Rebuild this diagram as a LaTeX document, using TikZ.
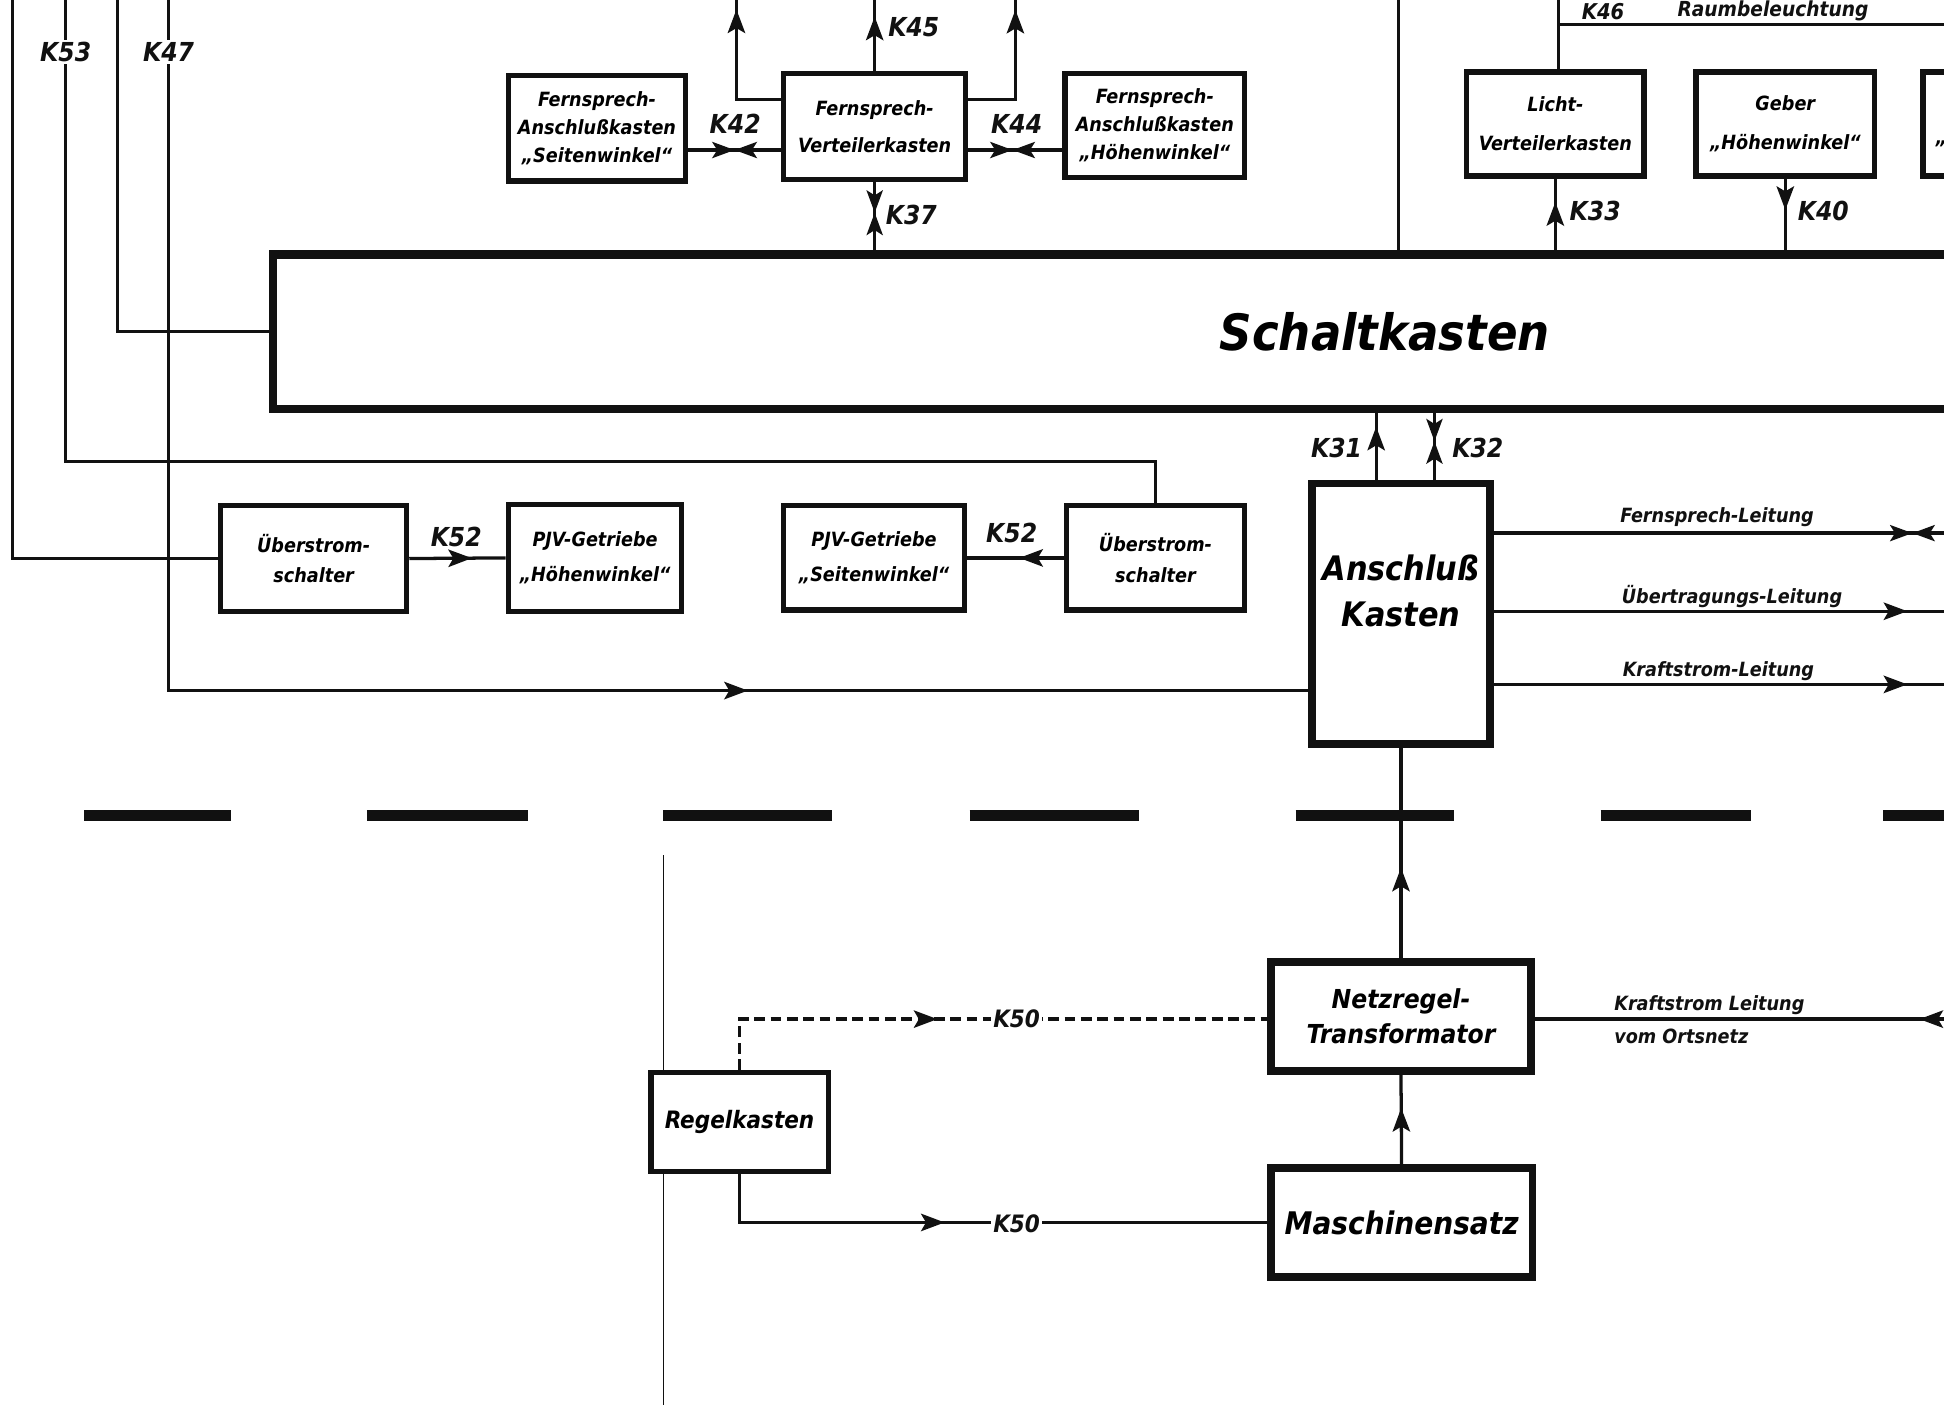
\documentclass[tikz,border=0pt]{standalone}
\usepackage{fontspec}
\setmainfont{DejaVu Sans Condensed}
\usepackage{tikz}
\usetikzlibrary{arrows.meta,decorations.markings}
\definecolor{ink}{HTML}{111111}
\tikzset{
  box/.style={draw=ink, line width=2.4pt, fill=white, align=center, inner sep=1pt,
    font=\fontsize{9}{13}\selectfont\bfseries\itshape},
  bigbox/.style={box, line width=3.5pt},
  wire/.style={draw=ink, line width=1.5pt},
  ctrl/.style={wire, dash pattern=on 5pt off 2.5pt},
  sep/.style={draw=ink, line width=5pt},
  lab/.style={text=ink, inner sep=1pt, font=\fontsize{12}{14}\selectfont\bfseries\itshape},
  note/.style={text=ink, inner sep=1pt, font=\fontsize{9}{11}\selectfont\bfseries\itshape},
  tip/.style={postaction={decorate}, decoration={markings,
    mark=at position #1 with {\arrow{Stealth[length=3.8mm,width=2.8mm,inset=0.8mm]}}}},
  meet/.style={postaction={decorate}, decoration={markings,
    mark=at position #1 with {\arrow{Stealth[length=3.6mm,width=2.6mm,inset=0.8mm]}%
      \pgftransformxshift{3.6mm}\arrow{Stealth[length=3.6mm,width=2.6mm,inset=0.8mm,reversed]}}}}
}

\begin{document}
\begin{tikzpicture}[x=0.02cm, y=-0.02cm]
  \useasboundingbox (0,0) rectangle (1568,1133);
  \fill[white] (0,0) rectangle (1568,1133);
  \clip (0,0) rectangle (1568,1133);

  % free ends at the sheet border
  \coordinate (t10) at (10,-10);
  \coordinate (tK53) at (53,-10);
  \coordinate (t95) at (95,-10);
  \coordinate (tK47) at (136,-10);
  \coordinate (tL) at (594,-10);
  \coordinate (tR) at (819,-10);
  \coordinate (t1128) at (1128,-10);
  \coordinate (t1257) at (1257,-10);
  \coordinate (eRaum) at (1580,20);
  \coordinate (eF) at (1580,430);
  \coordinate (eU) at (1580,493);
  \coordinate (eK) at (1580,552);
  \coordinate (eOrt) at (1580,822);

  % sheet edge and separation line
  \draw[ink, line width=0.5pt] (535,690) -- (535,1140);
  \foreach \a/\b in {68/186, 296/426, 535/671, 782/919, 1045/1173, 1291/1412, 1519/1600}
    \draw[sep] (\a,658) -- (\b,658);

  % upper boxes
  \node[box, minimum width=2.86cm, minimum height=1.70cm] (fakS) at (481.5,103.5) {Fernsprech-\\Anschlußkasten\\„Seitenwinkel“};
  \node[box, minimum width=2.94cm, minimum height=1.72cm] (fvk) at (705.5,102) {Fernsprech-\\[4pt]Verteilerkasten};
  \node[box, minimum width=2.90cm, minimum height=1.68cm] (fakH) at (931.5,101) {Fernsprech-\\Anschlußkasten\\„Höhenwinkel“};
  \node[box, minimum width=2.86cm, minimum height=1.68cm] (lvk) at (1254.5,100) {Licht-\\[5pt]Verteilerkasten};
  \node[box, minimum width=2.88cm, minimum height=1.68cm] (gebH) at (1440,100) {Geber\\[5pt]„Höhenwinkel“};
  \node[box, minimum width=2.88cm, minimum height=1.68cm] (gebS) at (1623,100) {};
  \node[box, draw=none, fill=none] at (1566,116) {„};

  \node[draw=ink, line width=4pt, minimum width=35.88cm, minimum height=2.5cm,
    font=\fontsize{23}{26}\selectfont\bfseries\itshape] (schalt) at (1117,267.5) {Schaltkasten};

  % middle row
  \node[box, minimum width=3.00cm, minimum height=1.70cm] (usL) at (253,450.5) {Überstrom-\\[1pt]schalter};
  \node[box, minimum width=2.80cm, minimum height=1.72cm] (pjvH) at (480,450) {PJV-Getriebe\\[3pt]„Höhenwinkel“};
  \node[box, minimum width=2.92cm, minimum height=1.68cm] (pjvS) at (705,450) {PJV-Getriebe\\[3pt]„Seitenwinkel“};
  \node[box, minimum width=2.88cm, minimum height=1.68cm] (usR) at (932,450) {Überstrom-\\[1pt]schalter};
  \node[bigbox, minimum width=2.88cm, minimum height=4.2cm,
    font=\fontsize{15.5}{21}\selectfont\bfseries\itshape] (ak) at (1130,495) {Anschluß\\Kasten\\\mbox{}};

  % lower part
  \node[bigbox, minimum width=4.2cm, minimum height=1.76cm,
    font=\fontsize{12}{16}\selectfont\bfseries\itshape] (nt) at (1130,820) {Netzregel-\\Transformator};
  \node[bigbox, minimum width=4.22cm, minimum height=1.76cm,
    font=\fontsize{14.3}{16}\selectfont\bfseries\itshape] (ms) at (1130.5,986) {Maschinensatz};
  \node[box, minimum width=2.86cm, minimum height=1.6cm,
    font=\fontsize{11}{13}\selectfont\bfseries\itshape] (rk) at (596.5,905) {Regelkasten};

  % lines from the left border
  \draw[wire] (t10) |- (usL.west);
  \draw[wire] (tK53) |- (usR.north |- 0,372) -- (usR.north);
  \draw[wire] (t95) |- (schalt.west);
  \draw[wire, tip=0.696] (tK47) |- (ak.west |- 0,557);
  \node[lab, fill=white] (lK53) at (53,42) {K53};
  \node[lab, fill=white] (lK47) at (136,42) {K47};

  % telephone distribution
  \draw[wire, tip=0.65] (fvk.north) -- (fvk.north |- 0,-10);
  \draw[wire, tip=0.86] (fvk.west |- 0,80) -| (tL);
  \draw[wire, tip=0.86] (fvk.east |- 0,80) -| (tR);
  \draw[wire, meet=0.5] (fakS.east |- 0,121) -- (fvk.west |- 0,121);
  \draw[wire, meet=0.47] (fvk.east |- 0,121) -- (fakH.west |- 0,121);
  \draw[wire, meet=0.45] (fvk.south) -- (schalt.north -| fvk.south);
  \node[lab] (lK45) at (737,22) {K45};
  \node[lab] (lK42) at (593,100) {K42};
  \node[lab] (lK44) at (820,100) {K44};
  \node[lab] (lK37) at (735,173) {K37};

  % light and transmitters
  \draw[wire] (t1128) -- (schalt.north -| t1128);
  \draw[wire] (t1257) -- (lvk.north -| t1257);
  \draw[wire] (t1257 |- eRaum) -- (eRaum);
  \draw[wire, tip=0.67] (schalt.north -| lvk.south) -- (lvk.south);
  \draw[wire, tip=0.44] (gebH.south) -- (schalt.north -| gebH.south);
  \node[note, font=\fontsize{10}{12}\selectfont\bfseries\itshape] (lK46) at (1293,9) {K46};
  \node[note, font=\fontsize{9.5}{12}\selectfont\bfseries\itshape] (lRaum) at (1430,9) {Raumbeleuchtung};
  \node[lab, anchor=west] (lK33) at (1264,170) {K33};
  \node[lab, anchor=west] (lK40) at (1448,170) {K40};

  % overcurrent switches
  \draw[wire, tip=0.65] (usL.east) -- (pjvH.west);
  \draw[wire, tip=0.46] (usR.west) -- (pjvS.east);
  \node[lab] (lK52a) at (368,433) {K52};
  \node[lab] (lK52b) at (816,430) {K52};

  % connection box
  \draw[wire, tip=0.8] (ak.north -| 1110,0) -- (schalt.south -| 1110,0);
  \draw[wire, meet=0.42] (schalt.south -| 1157,0) -- (ak.north -| 1157,0);
  \node[lab] (lK31) at (1078,361) {K31};
  \node[lab] (lK32) at (1192,361) {K32};
  \draw[wire, meet=0.9] (ak.east |- eF) -- (eF);
  \draw[wire, tip=0.889] (ak.east |- eU) -- (eU);
  \draw[wire, tip=0.889] (ak.east |- eK) -- (eK);
  \node[note] (lF) at (1385,417) {Fernsprech-Leitung};
  \node[note] (lU) at (1397,481) {Übertragungs-Leitung};
  \node[note] (lK) at (1386,541) {Kraftstrom-Leitung};

  % supply
  \draw[wire, tip=0.43] (nt.north) -- (ak.south);
  \draw[wire, tip=0.63] (ms.north) -- (nt.south);
  \draw[wire, tip=0.093] (eOrt) -- (nt.east |- eOrt);
  \node[note, anchor=west] (lOrt1) at (1300,811) {Kraftstrom Leitung};
  \node[note, anchor=west] (lOrt2) at (1300,836) {vom Ortsnetz};
  \draw[ctrl, tip=0.43] (rk.north) |- (nt.west |- eOrt);
  \draw[wire, tip=0.44] (rk.south) |- (ms.west);
  \node[lab, fill=white, font=\fontsize{11}{13}\selectfont\bfseries\itshape] (lK50a) at (820,822) {K50};
  \node[lab, fill=white, font=\fontsize{11}{13}\selectfont\bfseries\itshape] (lK50b) at (820,987) {K50};
\end{tikzpicture}
\end{document}
